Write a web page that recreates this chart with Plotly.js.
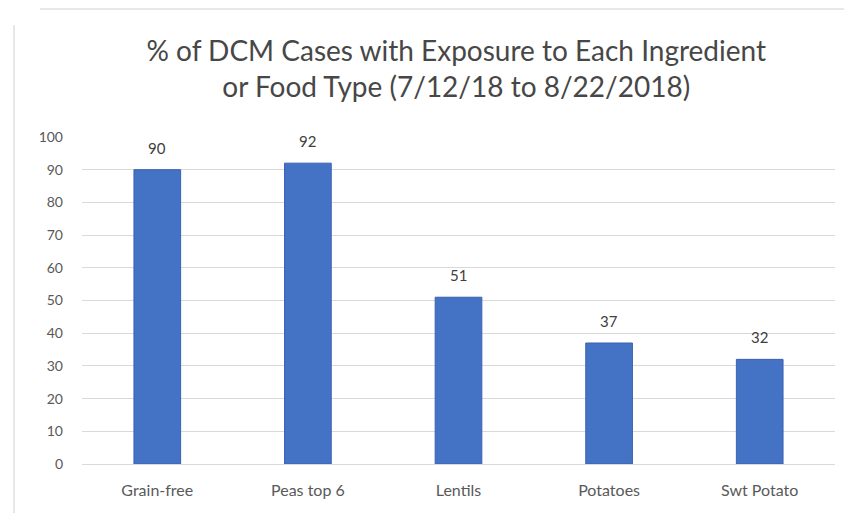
<!DOCTYPE html>
<html>
<head>
<meta charset="utf-8">
<script src="https://cdn.plot.ly/plotly-3.0.1.min.js"></script>
<style>
html,body{margin:0;padding:0;background:#fff;}
#chart{width:844px;height:515px;}
</style>
</head>
<body>
<div id="chart"></div>
<script>
const categories = ["Grain-free", "Peas top 6", "Lentils", "Potatoes", "Swt Potato"];
const values = [90, 92, 51, 37, 32];
const yTicks = [0, 10, 20, 30, 40, 50, 60, 70, 80, 90, 100];

const W = 844, H = 515;
const margin = {l: 82, r: 9, t: 137, b: 51};
const pw = W - margin.l - margin.r, ph = H - margin.t - margin.b;
const px = x => (x - margin.l) / pw;
const py = y => (H - margin.b - y) / ph;

const font = "Lato, 'Open Sans', sans-serif";

const trace = {
  type: "bar",
  x: categories,
  y: values,
  marker: {color: "#4472C4", line: {color: "#3a62b0", width: 1}},
  width: 0.31,
  hoverinfo: "x+y"
};

const labels = categories.map((c, i) => ({
  x: c, y: values[i], xref: "x", yref: "y",
  text: String(values[i]), showarrow: false,
  yanchor: "bottom", yshift: 11,
  font: {family: font, size: 15, color: "#404040"}
}));

const layout = {
  width: W, height: H,
  margin: margin,
  paper_bgcolor: "#ffffff",
  plot_bgcolor: "#ffffff",
  showlegend: false,
  bargap: 0.69,
  title: {
    text: "% of DCM Cases with Exposure to Each Ingredient<br>or Food Type (7/12/18 to 8/22/2018)",
    font: {family: font, size: 28, color: "#474747"},
    x: 0.497, xanchor: "center", xref: "paper",
    y: 1 - 61 / H, yanchor: "middle", yref: "container"
  },
  xaxis: {
    type: "category",
    tickfont: {family: font, size: 16, color: "#595959"},
    showgrid: false,
    showline: true, linecolor: "#d9d9d9", linewidth: 1,
    ticks: "", ticklen: 0, ticklabelstandoff: 12
  },
  yaxis: {
    range: [0, 100],
    tickvals: yTicks,
    ticktext: yTicks.map(String),
    tickfont: {family: font, size: 14, color: "#595959"},
    showgrid: true, gridcolor: "#d9d9d9", gridwidth: 1,
    zeroline: false, showline: false,
    ticks: "", ticklabelstandoff: 18
  },
  annotations: labels,
  shapes: [
    {type: "line", xref: "paper", yref: "paper", x0: px(14), x1: px(14), y0: py(25), y1: py(513),
     line: {color: "#d0d0d0", width: 1}},
    {type: "line", xref: "paper", yref: "paper", x0: px(40), x1: px(844), y0: py(9), y1: py(9),
     line: {color: "#d0d0d0", width: 1}}
  ]
};

Plotly.newPlot("chart", [trace], layout, {displayModeBar: false, staticPlot: true});
</script>
</body>
</html>
